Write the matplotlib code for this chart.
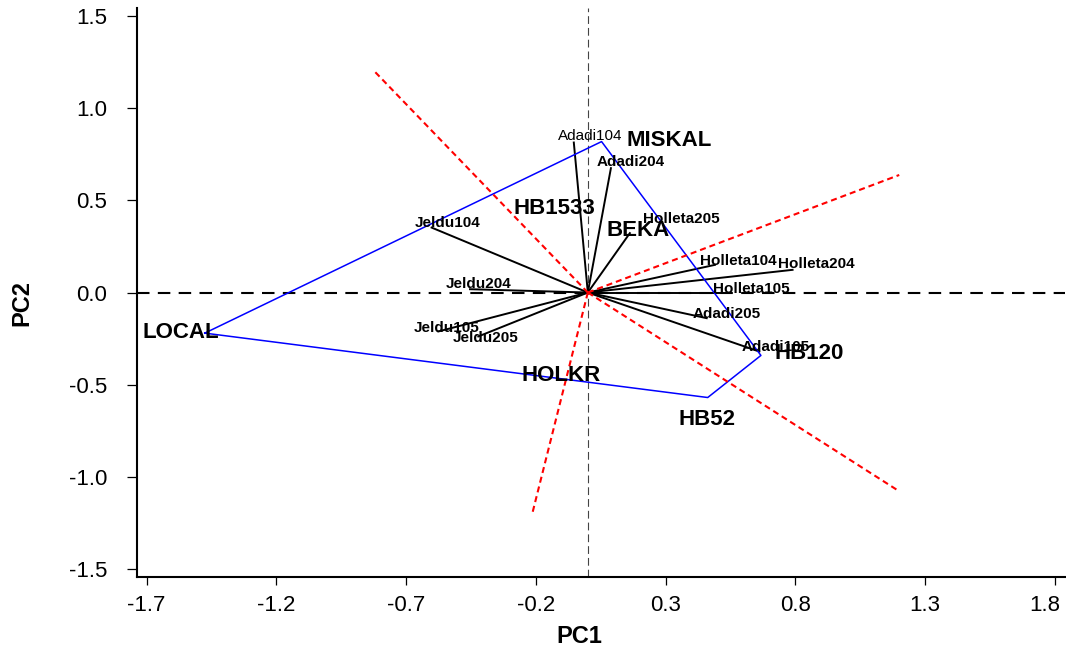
import matplotlib
matplotlib.use('Agg')
import matplotlib.pyplot as plt
import matplotlib.transforms as mtransforms

plt.rcParams['font.family'] = ['Liberation Sans', 'DejaVu Sans']

#######################################################
# GGE biplot scores (PC1, PC2)

# environments (vectors from origin)
env_names = ['Adadi104', 'Adadi204', 'Holleta205', 'Jeldu104', 'Jeldu204', 'Jeldu105',
             'Jeldu205', 'Holleta104', 'Holleta204', 'Holleta105', 'Adadi205', 'Adadi105']
env_pc1 = [-0.054, 0.089, 0.162, -0.602, -0.454, -0.576, -0.422, 0.490, 0.789, 0.535, 0.458, 0.661]
env_pc2 = [0.813, 0.674, 0.322, 0.352, 0.018, -0.211, -0.238, 0.150, 0.123, 0.000, -0.139, -0.320]
env_lab_pc1 = [0.010, 0.164, 0.361, -0.539, -0.422, -0.543, -0.395, 0.580, 0.881, 0.630, 0.536, 0.725]
env_lab_pc2 = [0.850, 0.710, 0.398, 0.379, 0.047, -0.193, -0.244, 0.173, 0.155, 0.018, -0.115, -0.296]

# genotypes (labels)
geno_names = ['MISKAL', 'HB1533', 'BEKA', 'LOCAL', 'HOLKR', 'HB52', 'HB120']
geno_pc1 = [0.313, -0.127, 0.195, -1.570, -0.102, 0.461, 0.852]
geno_pc2 = [0.825, 0.457, 0.338, -0.218, -0.447, -0.686, -0.332]

# polygon (convex hull) vertices: LOCAL, MISKAL, HB120, HB52
hull_pc1 = [-1.476, 0.053, 0.667, 0.462]
hull_pc2 = [-0.220, 0.818, -0.341, -0.569]

# perpendicular rays (end points, all start at origin)
ray_pc1 = [-0.823, 1.200, -0.213, 1.191]
ray_pc2 = [1.200, 0.637, -1.192, -1.069]

xticks = [-1.7, -1.2, -0.7, -0.2, 0.3, 0.8, 1.3, 1.8]
yticks = [-1.5, -1.0, -0.5, 0.0, 0.5, 1.0, 1.5]

######################################################
fig = plt.figure(figsize=(10.66, 6.49), dpi=100)
ax = fig.add_axes([0.1282, 0.1114, 0.8708, 0.8763])

# reference lines through origin
ax.axhline(0, color='black', lw=1.5, linestyle=(0, (6, 4)), zorder=1)
ax.axvline(0, color='#444444', lw=0.8, linestyle=(0, (7, 3.6)), zorder=1)

# environment vectors
for x, y in zip(env_pc1, env_pc2):
    ax.plot([0, x], [0, y], color='black', lw=1.4, zorder=2)

# polygon
hx = hull_pc1 + [hull_pc1[0]]
hy = hull_pc2 + [hull_pc2[0]]
ax.plot(hx, hy, color='blue', lw=1.1, zorder=3)

# rays
for x, y in zip(ray_pc1, ray_pc2):
    ax.plot([0, x], [0, y], color='red', lw=1.5, linestyle=(0, (2.9, 1.9)), zorder=3)

# labels
for name, x, y in zip(env_names, env_lab_pc1, env_lab_pc2):
    w = 'normal' if name == 'Adadi104' else 'bold'
    ax.text(x, y, name, fontsize=11, fontweight=w, ha='center', va='center', zorder=4)

for name, x, y in zip(geno_names, geno_pc1, geno_pc2):
    ax.text(x, y, name, fontsize=16, fontweight='bold', ha='center', va='center', zorder=4)

ax.set_xlim(-1.7385, 1.8385)
ax.set_ylim(-1.54, 1.542)
ax.set_xticks(xticks)
ax.set_xticklabels(['%.1f' % v for v in xticks])
ax.set_yticks(yticks)
ax.set_yticklabels(['%.1f' % v for v in yticks])

ax.spines['top'].set_visible(False)
ax.spines['right'].set_visible(False)
ax.spines['left'].set_linewidth(1.5)
ax.spines['bottom'].set_linewidth(1.5)
ax.tick_params(axis='x', length=6, width=0.9, pad=7, labelsize=16)
ax.tick_params(axis='y', length=7, width=0.9, pad=14, labelsize=16)

# last x label pulled in so it stays inside the figure
last = ax.get_xticklabels()[-1]
last.set_transform(last.get_transform() + mtransforms.ScaledTranslation(-10/100, 0, fig.dpi_scale_trans))

fig.text(579/1066, 1 - 636.5/649, 'PC1', fontsize=17, fontweight='bold', ha='center', va='center')
fig.text(21.5/1066, 1 - 302.5/649, 'PC2', fontsize=17, fontweight='bold', ha='center', va='center',
         rotation=90)

plt.savefig('out.png', dpi=100)
